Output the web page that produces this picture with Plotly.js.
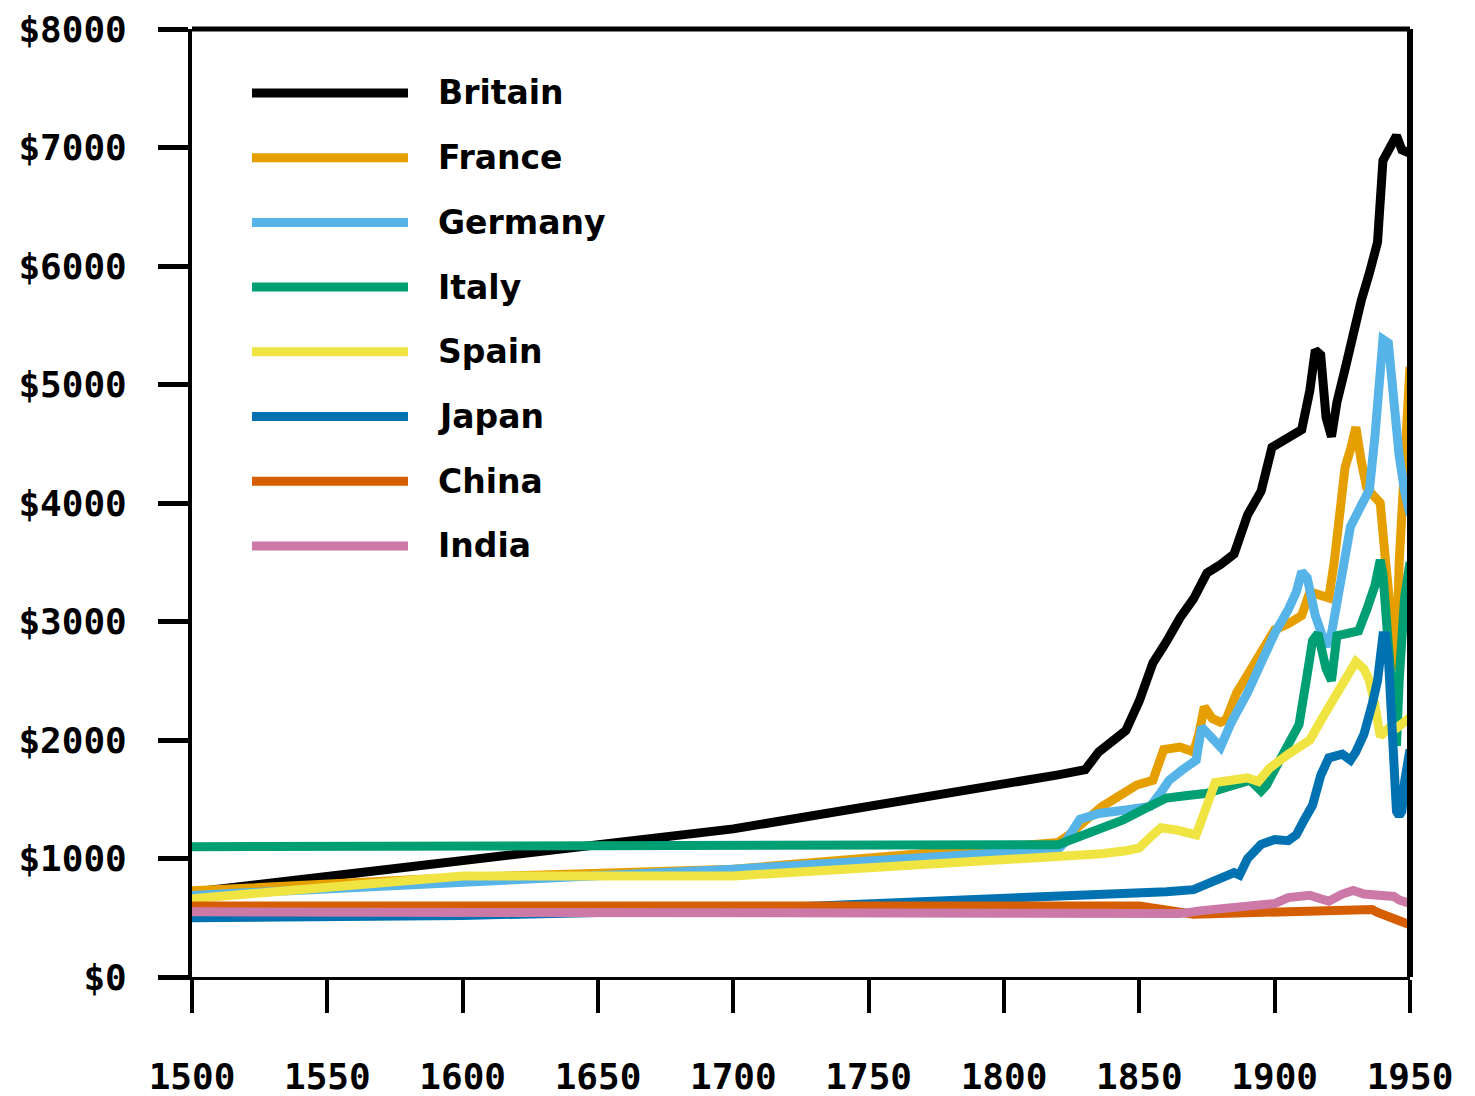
<!DOCTYPE html>
<html>
<head>
<meta charset="utf-8">
<script src="https://cdn.plot.ly/plotly-3.0.1.min.js"></script>
<style>html,body{margin:0;padding:0;background:#fff;}#chart{width:1475px;height:1096px;}</style>
</head>
<body>
<div id="chart"></div>
<script>
// ---- data (GDP per capita) ----
const countries = ["Britain", "France", "Germany", "Italy", "Spain", "Japan", "China", "India"];
const colors = ["#000000", "#E69F00", "#56B4E9", "#009E73", "#F0E442", "#0072B2", "#D55E00", "#CC79A7"];

const britainYears = [1500,1600,1700,1820,1830,1835,1840,1845,1850,1855,1860,1865,1870,1875,1880,1885,1890,1895,1899,1903,1910,1913,1915,1917,1919,1921,1923,1926,1929,1932,1935,1938,1940,1943,1945,1947,1950];
const britainGDP   = [714,974,1250,1706,1749,1900,1990,2080,2330,2650,2830,3030,3190,3410,3480,3570,3900,4100,4470,4520,4620,4950,5290,5250,4720,4560,4850,5130,5440,5710,5940,6200,6890,7040,7100,6980,6950];

const franceYears = [1500,1600,1700,1820,1824,1830,1836,1842,1849,1855,1859,1865,1870,1872,1874,1877,1880,1882,1886,1890,1895,1900,1905,1910,1913,1916,1920,1922,1924,1926,1928,1930,1932,1934,1937,1939,1941,1943,1945,1946,1947,1948,1949,1950];
const franceGDP   = [727,841,910,1135,1200,1320,1435,1520,1620,1660,1920,1940,1900,2050,2280,2180,2150,2170,2400,2550,2750,2930,2980,3050,3250,3230,3200,3500,4000,4300,4450,4640,4350,4130,4050,4000,3500,3000,2590,3500,4000,4400,4800,5150];

const germanyYears = [1500,1600,1700,1820,1823,1828,1835,1845,1854,1858,1861,1866,1871,1873,1876,1880,1884,1890,1895,1900,1905,1908,1910,1912,1915,1919,1921,1925,1928,1932,1935,1937,1939,1940,1942,1944,1946,1948,1950];
const germanyGDP   = [688,791,910,1077,1150,1330,1380,1410,1440,1560,1660,1750,1830,2110,2030,1940,2150,2400,2650,2900,3100,3250,3420,3370,3050,2790,2900,3450,3800,3980,4110,4550,5200,5380,5350,4800,4400,4100,3900];

const italyYears = [1500,1600,1700,1820,1825,1835,1844,1852,1860,1867,1875,1882,1888,1891,1895,1897,1900,1905,1909,1912,1914,1916,1919,1921,1923,1927,1931,1934,1937,1939,1940,1942,1944,1945,1946,1947,1948,1949,1950];
const italyGDP   = [1100,1100,1100,1117,1160,1240,1325,1420,1510,1530,1550,1600,1650,1660,1570,1620,1750,1950,2130,2550,2840,2900,2600,2500,2880,2900,2920,3100,3300,3520,3400,2800,2200,1950,2500,2900,3200,3350,3500];

const spainYears = [1500,1600,1700,1820,1836,1845,1850,1855,1858,1864,1869,1871,1875,1878,1884,1890,1894,1898,1905,1913,1918,1924,1928,1930,1933,1935,1937,1939,1942,1945,1950];
const spainGDP   = [661,853,853,1008,1040,1065,1090,1200,1260,1240,1220,1200,1450,1640,1660,1680,1650,1760,1880,2000,2200,2420,2580,2660,2600,2500,2300,2030,2100,2100,2190];

const japanYears = [1500,1600,1700,1820,1830,1840,1850,1860,1870,1875,1880,1885,1887,1890,1895,1900,1905,1908,1911,1914,1917,1920,1925,1928,1930,1933,1936,1938,1940,1941,1942,1943,1944,1945,1946,1947,1948,1949,1950];
const japanGDP   = [500,520,570,669,680,690,700,720,737,780,840,880,860,1000,1120,1160,1150,1200,1330,1450,1700,1850,1880,1830,1900,2050,2300,2500,2880,2880,2700,2300,1800,1400,1360,1400,1650,1800,1920];

const chinaYears = [1500,1600,1700,1820,1850,1870,1890,1900,1913,1929,1936,1938,1940,1942,1944,1946,1948,1950];
const chinaGDP   = [600,600,600,600,600,530,540,545,552,562,570,545,530,520,500,480,460,440];

const indiaYears = [1500,1600,1700,1820,1850,1865,1873,1884,1890,1900,1905,1913,1917,1920,1925,1929,1933,1938,1944,1946,1950];
const indiaGDP   = [550,550,550,533,533,535,560,584,600,620,670,690,660,640,700,730,700,690,680,650,620];

const yTickValues = [0,1000,2000,3000,4000,5000,6000,7000,8000];
const xTickValues = [1500,1550,1600,1650,1700,1750,1800,1850,1900,1950];

// ---- build chart ----
const seriesX = [britainYears, franceYears, germanyYears, italyYears, spainYears, japanYears, chinaYears, indiaYears];
const seriesY = [britainGDP, franceGDP, germanyGDP, italyGDP, spainGDP, japanGDP, chinaGDP, indiaGDP];

const traces = countries.map((name, i) => ({
  type: "scatter",
  mode: "lines",
  name: name,
  x: seriesX[i],
  y: seriesY[i],
  line: {color: colors[i], width: 9},
  showlegend: false,
  hoverinfo: "skip"
}));

const W = 1475, H = 1096;
const M = {l: 192, r: 65, t: 29, b: 119};
const plotW = W - M.l - M.r, plotH = H - M.t - M.b;
const px2paperX = px => (px - M.l) / plotW;
const py2paperY = py => (H - M.b - py) / plotH;

// custom legend (long sample lines as in the reference)
const shapes = [];
const annotations = [];
const legendTop = 93, legendStep = 64.7;
countries.forEach((name, i) => {
  const py = legendTop + i * legendStep;
  shapes.push({
    type: "line", xref: "paper", yref: "paper",
    x0: px2paperX(252), x1: px2paperX(408),
    y0: py2paperY(py), y1: py2paperY(py),
    line: {color: colors[i], width: 9}
  });
  annotations.push({
    xref: "paper", yref: "paper",
    x: px2paperX(436), y: py2paperY(py),
    xanchor: "left", yanchor: "middle",
    text: name, showarrow: false,
    font: {family: "DejaVu Sans", size: 33, color: "#000", weight: "bold"}
  });
});
// top and right frame lines
shapes.push({type: "line", xref: "paper", yref: "paper", x0: 0, x1: 1, y0: 1, y1: 1,
  line: {color: "#000", width: 5}, layer: "above"});
shapes.push({type: "line", xref: "paper", yref: "paper", x0: 1, x1: 1, y0: 0, y1: 1,
  line: {color: "#000", width: 6}, layer: "above"});

const tickFont = {family: "DejaVu Sans Mono", size: 36, color: "#000", weight: "bold"};

const layout = {
  width: W, height: H,
  margin: M,
  paper_bgcolor: "#fff",
  plot_bgcolor: "#fff",
  showlegend: false,
  xaxis: {
    range: [1500, 1950],
    tickvals: xTickValues,
    ticktext: xTickValues.map(String),
    ticks: "outside", ticklen: 33, tickwidth: 4, tickcolor: "#000",
    showline: true, linewidth: 3, linecolor: "#000",
    showgrid: false, zeroline: false,
    tickfont: tickFont,
    ticklabelstandoff: 33,
    fixedrange: true
  },
  yaxis: {
    range: [0, 8000],
    tickvals: yTickValues,
    ticktext: yTickValues.map(v => "$" + v),
    ticks: "outside", ticklen: 30, tickwidth: 5, tickcolor: "#000",
    showline: true, linewidth: 4, linecolor: "#000",
    showgrid: false, zeroline: false,
    tickfont: tickFont,
    ticklabelstandoff: 24,
    fixedrange: true
  },
  shapes: shapes,
  annotations: annotations
};

Plotly.newPlot("chart", traces, layout, {displayModeBar: false, staticPlot: true});
</script>
</body>
</html>
